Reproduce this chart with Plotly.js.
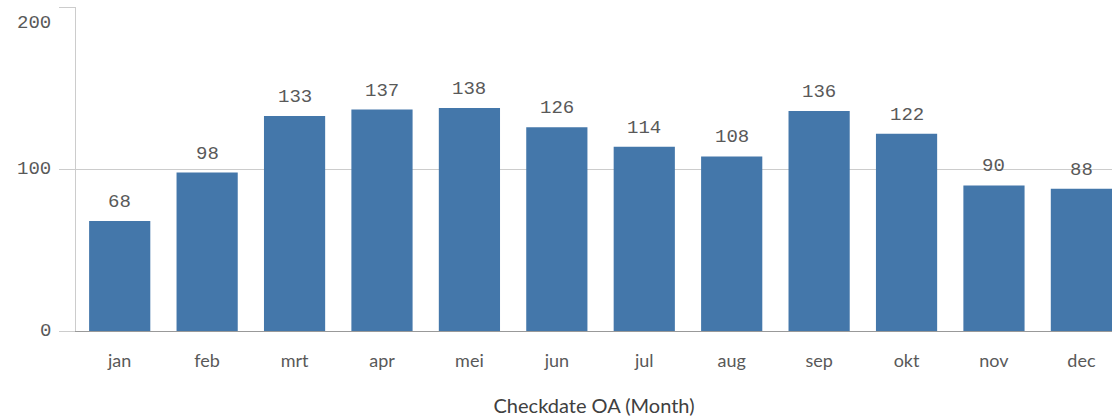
<!DOCTYPE html>
<html>
<head>
<meta charset="utf-8">
<script src="https://cdn.plot.ly/plotly-3.0.1.min.js"></script>
<style>html,body{margin:0;padding:0;background:#fff;}#chart{width:1112px;height:420px;}</style>
</head>
<body>
<div id="chart"></div>
<script>
const months = ["jan","feb","mrt","apr","mei","jun","jul","aug","sep","okt","nov","dec"];
const counts = [68, 98, 133, 137, 138, 126, 114, 108, 136, 122, 90, 88];
const yTicks = [0, 100, 200];
const xTitle = "Checkdate OA (Month)";

const monoFont = "Liberation Mono, DejaVu Sans Mono, monospace";
const sansFont = "Lato, Open Sans, sans-serif";

const trace = {
  type: "bar",
  x: months,
  y: counts,
  marker: {color: "#4477aa"},
  hoverinfo: "x+y"
};

const valueLabels = months.map((m, i) => ({
  x: m, y: counts[i], xref: "x", yref: "y",
  text: String(counts[i]), showarrow: false,
  yanchor: "bottom", yshift: 6,
  font: {family: monoFont, size: 19, color: "#595959"}
}));

const yMax = yTicks[yTicks.length - 1];
const yTickLabels = yTicks.map(v => ({
  x: -23 / 1036, xref: "paper", y: v, yref: "y",
  text: String(v), showarrow: false,
  xanchor: "right", yanchor: v === yMax ? "top" : "middle",
  yshift: v === yMax ? -2 : 0,
  font: {family: monoFont, size: 19, color: "#595959"}
}));

const layout = {
  width: 1112, height: 420,
  margin: {l: 76, r: 0, t: 7, b: 89},
  paper_bgcolor: "#ffffff", plot_bgcolor: "#ffffff",
  bargap: 0.3,
  showlegend: false,
  xaxis: {
    type: "category",
    range: [-0.5, 11.35],
    showgrid: false,
    showline: true, linecolor: "#999999", linewidth: 1,
    ticks: "outside", ticklen: 13, tickcolor: "rgba(0,0,0,0)",
    tickfont: {family: sansFont, size: 18, color: "#595959"},
    title: {text: xTitle, font: {family: sansFont, size: 20, color: "#404040"}, standoff: 29},
    fixedrange: true
  },
  yaxis: {
    range: [0, 200.4],
    tickvals: yTicks,
    showticklabels: false,
    showgrid: true, gridcolor: "#cccccc", gridwidth: 1,
    zeroline: false,
    showline: true, linecolor: "#cccccc", linewidth: 1,
    ticks: "outside", ticklen: 16, tickcolor: "#cccccc",
    fixedrange: true
  },
  annotations: valueLabels.concat(yTickLabels)
};

Plotly.newPlot("chart", [trace], layout, {displayModeBar: false, staticPlot: true});
</script>
</body>
</html>
